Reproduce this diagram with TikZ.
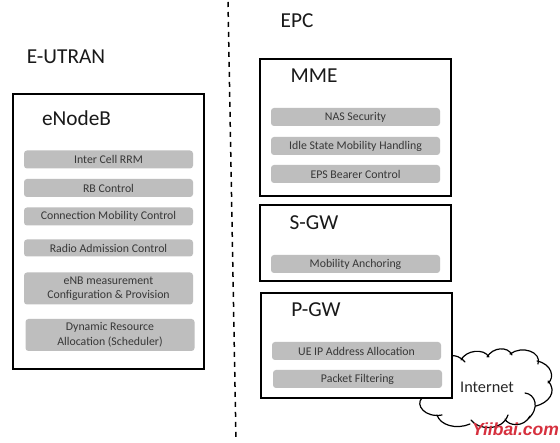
\documentclass[tikz,border=0pt]{standalone}
\usepackage{fontspec}
\setmainfont{Carlito}
\newfontfamily\markfont{Liberation Sans}
\definecolor{barfill}{RGB}{190,190,190}
\definecolor{bartext}{RGB}{55,55,55}
\definecolor{marktext}{RGB}{214,48,62}
\tikzset{
  panel/.style={draw=black, line width=1.5pt, fill=white, inner sep=0pt},
  bar/.style={fill=barfill, rounded corners=3pt, inner sep=0pt,
              minimum width=169pt, minimum height=18pt,
              align=center, text=bartext, font=\fontsize{11.8}{14.5}\selectfont},
  bartall/.style={bar, minimum height=32pt},
  lab/.style={font=\fontsize{21.3}{25}\selectfont, text=black!90},
  title/.style={font=\fontsize{21.3}{25}\selectfont, text=black!90},
  divider/.style={black, line width=1.5pt, dash pattern=on 5pt off 5pt},
  cloudline/.style={draw=black, line width=1.2pt, fill=white, line cap=round},
}
\begin{document}
\begin{tikzpicture}[x=1pt,y=-1pt]
  \path[use as bounding box] (0,0) rectangle (560,443);

  \coordinate (divtop) at (228,2);
  \coordinate (divbot) at (236,441);
  \draw[divider] (divtop) -- (divbot);

  \node[title] (eutran) at (66,57) {E-UTRAN};
  \node[title] (epc) at (297,21) {EPC};

  % left side
  \node[panel, minimum width=191pt, minimum height=275pt] (enb) at (108.5,231.5) {};
  \node[lab] (enblab) at (76.5,118) {eNodeB};
  \node[bar] (rrm) at (108.5,159.5) {Inter Cell RRM};
  \node[bar] (rbc) at (108.5,188) {RB Control};
  \node[bar] (cmc) at (108.5,216.5) {Connection Mobility Control};
  \node[bar, minimum height=17pt] (rac) at (108.5,248) {Radio Admission Control};
  \node[bartall] (meas) at (108.5,288.5)
    {eNB measurement\\Configuration \& Provision};
  \node[bartall] (sched) at (110,335)
    {Dynamic Resource\\Allocation (Scheduler)};

  % cloud goes behind the P-GW box
  \draw[cloudline]
    (445,356) .. controls (456,354) and (462,358) .. (465,362)
    (461,360) .. controls (466,350) and (484,348) .. (489,357)
    (487,357) .. controls (493,347) and (508,346) .. (512,355)
    (510,354) .. controls (522,345) and (542,352) .. (538,364)
    (537,361) .. controls (552,364) and (555,378) .. (548,383)
    (548,381) .. controls (558,392) and (548,403) .. (536,406)
    (525,393) .. controls (535,394) and (541,408) .. (527,420)
    (530,416) .. controls (524,428) and (508,426) .. (505,419)
    (508,415) .. controls (502,432) and (478,430) .. (471,420)
    (470,424) .. controls (456,430) and (440,425) .. (437,415)
    (442,415) .. controls (425,418) and (415,405) .. (422,398);

  % right side
  \node[panel, minimum width=191pt, minimum height=137pt] (mme) at (355.5,127.5) {};
  \node[lab] (mmelab) at (314,76) {MME};
  \node[bar] (nas) at (355.5,117) {NAS Security};
  \node[bar] (idle) at (355.5,146) {Idle State Mobility Handling};
  \node[bar] (eps) at (355.5,174) {EPS Bearer Control};

  \node[panel, minimum width=191pt, minimum height=76pt] (sgw) at (355.5,243) {};
  \node[lab] (sgwlab) at (314,223) {S-GW};
  \node[bar] (anchor) at (355.5,264) {Mobility Anchoring};

  \node[panel, minimum width=191pt, minimum height=105pt] (pgw) at (356.5,345.5) {};
  \node[lab] (pgwlab) at (316,310) {P-GW};
  \node[bar] (ueip) at (356.5,351) {UE IP Address Allocation};
  \node[bar] (filter) at (357.5,379) {Packet Filtering};

  \node[font=\fontsize{16.3}{19}\selectfont, text=black!85] (inet) at (487,387) {Internet};
  \node[font=\markfont\itshape\bfseries\fontsize{17.5}{20}\selectfont, text=marktext] (mark) at (515.5,429) {Yiibai.com};
\end{tikzpicture}
\end{document}
